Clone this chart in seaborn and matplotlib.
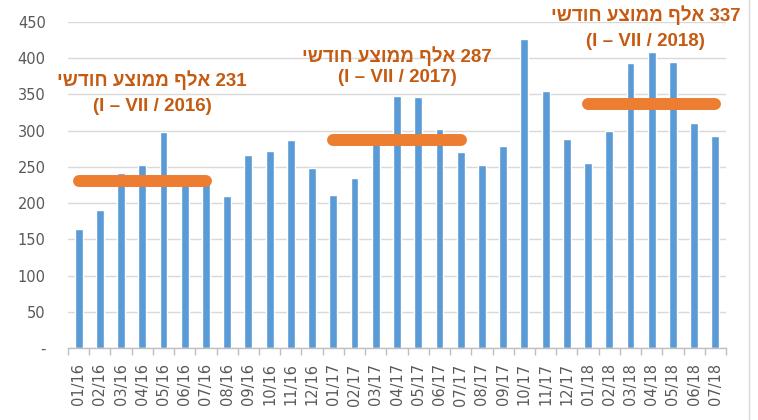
import re
import matplotlib
matplotlib.use("Agg")
import matplotlib.pyplot as plt
from matplotlib.lines import Line2D
from matplotlib.ticker import FixedLocator
import seaborn as sns
import pandas as pd

# ---- data ----
months = ["01/16", "02/16", "03/16", "04/16", "05/16", "06/16", "07/16", "08/16",
          "09/16", "10/16", "11/16", "12/16", "01/17", "02/17", "03/17", "04/17",
          "05/17", "06/17", "07/17", "08/17", "09/17", "10/17", "11/17", "12/17",
          "01/18", "02/18", "03/18", "04/18", "05/18", "06/18", "07/18"]
values = [164, 191, 242, 253, 298, 232, 237, 210,
          266, 272, 287, 249, 211, 234, 283, 348,
          346, 302, 270, 253, 279, 427, 355, 289,
          255, 300, 393, 408, 395, 310, 293]
avg_years = ["16", "17", "18"]
avg_values = [231, 287, 337]
avg_titles = ["231 אלף ממוצע חודשי", "287 אלף ממוצע חודשי", "337 אלף ממוצע חודשי"]
avg_periods = ["(I – VII / 2016)", "(I – VII / 2017)", "(I – VII / 2018)"]
yticks = [0, 50, 100, 150, 200, 250, 300, 350, 400, 450]
ytick_labels = ["-", "50", "100", "150", "200", "250", "300", "350", "400", "450"]

BAR = "#5B9BD5"
LINE = "#ED7D31"
TXT = "#C55A11"
GRAY = "#595959"


def visual(s):
    """Convert logical RTL (Hebrew) text into left-to-right visual order."""
    r = s[::-1]
    return re.sub(r"\d+", lambda m: m.group(0)[::-1], r)


sns.set_theme(style="white")
plt.rcParams["font.family"] = ["DejaVu Sans"]

df = pd.DataFrame({"month": months, "value": values})

fig = plt.figure(figsize=(7.58, 4.20), dpi=100)
ax = fig.add_axes([68 / 758, 1 - 348 / 420, (726 - 68) / 758, (348 - 22) / 420])

sns.barplot(data=df, x="month", y="value", color=BAR, width=0.37,
            saturation=1, ax=ax, zorder=2)

ax.set_ylim(0, 450)
ax.set_xlim(-0.5, len(months) - 0.5)
ax.set_yticks(yticks)
ax.set_yticklabels(ytick_labels)
ax.yaxis.grid(True, color="#D9D9D9", linewidth=1)
ax.set_axisbelow(True)
ax.set_xlabel("")
ax.set_ylabel("")
for s in ["left", "right", "top"]:
    ax.spines[s].set_visible(False)
ax.spines["bottom"].set_color("#BFBFBF")
ax.spines["bottom"].set_linewidth(1)

ax.tick_params(axis="y", length=0, pad=16, labelsize=10.5, labelcolor=GRAY)
ax.tick_params(axis="x", which="major", length=0, pad=11, labelsize=10.5,
               labelcolor=GRAY, rotation=90)
ax.xaxis.set_minor_locator(FixedLocator([i - 0.5 for i in range(len(months) + 1)]))
ax.tick_params(axis="x", which="minor", length=5, width=1, color="#BFBFBF",
               direction="out", bottom=True)

# average lines and annotations
text_pos = [(3.46, 370, 333), (15.0, 403.5, 373), (26.7, 459, 423)]
for yr, avg, title, period, (tx, ty1, ty2) in zip(avg_years, avg_values, avg_titles,
                                                 avg_periods, text_pos):
    idx = [i for i, m in enumerate(months) if m.endswith("/" + yr) and int(m[:2]) <= 7]
    ax.plot([min(idx), max(idx)], [avg, avg], color=LINE, linewidth=8.6,
            solid_capstyle="round", zorder=3)
    ax.text(tx, ty1, visual(title), ha="center", va="center", color=TXT,
            fontsize=13.5, fontweight="bold", family=["Liberation Sans", "DejaVu Sans"],
            clip_on=False, zorder=4)
    ax.text(tx, ty2, period, ha="center", va="center", color=TXT,
            fontsize=13.5, fontweight="bold", family=["Liberation Sans", "DejaVu Sans"],
            clip_on=False, zorder=4)

fig.add_artist(Line2D([749 / 758, 749 / 758], [0, 1], transform=fig.transFigure,
                      color="#D9D9D9", linewidth=1))

fig.savefig("out.png", dpi=100)
